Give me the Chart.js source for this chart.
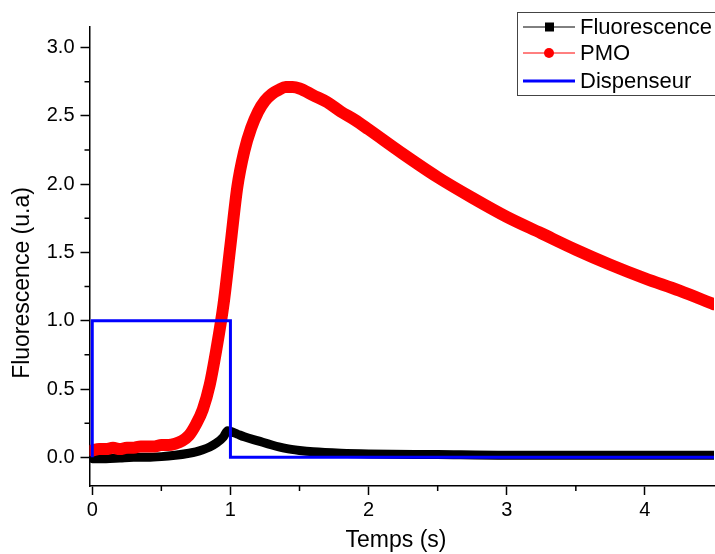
<!DOCTYPE html>
<html>
<head>
<meta charset="utf-8">
<script src="https://cdn.jsdelivr.net/npm/chart.js@4"></script>
<style>
  html, body { margin: 0; padding: 0; background: #fff; }
  #wrap { width: 715px; height: 554px; }
</style>
</head>
<body>
<div id="wrap"><canvas id="chart" width="715" height="554"></canvas></div>
<script>
/* Fluorescence / PMO / Dispenseur vs temps */

// PMO (rouge)
const pmoTime = [0.00, 0.05, 0.10, 0.15, 0.20, 0.25, 0.30, 0.35, 0.40, 0.45, 0.50, 0.55, 0.60, 0.65,
                 0.70, 0.75, 0.80, 0.85, 0.90, 0.95, 1.00, 1.05, 1.10, 1.15, 1.20, 1.25, 1.30, 1.35,
                 1.40, 1.45, 1.50, 1.60, 1.70, 1.80, 1.90, 2.00, 2.25, 2.50, 2.75, 3.00, 3.25, 3.50,
                 3.75, 4.00, 4.25, 4.50];
const pmoValues = [0.05, 0.06, 0.06, 0.07, 0.06, 0.07, 0.07, 0.08, 0.08, 0.08, 0.09, 0.09, 0.10, 0.12,
                   0.16, 0.24, 0.35, 0.53, 0.80, 1.12, 1.55, 1.98, 2.24, 2.41, 2.53, 2.61, 2.66, 2.69,
                   2.71, 2.71, 2.70, 2.65, 2.60, 2.53, 2.47, 2.40, 2.22, 2.05, 1.90, 1.76, 1.64, 1.52,
                   1.41, 1.31, 1.22, 1.12];

// Fluorescence (noir)
const fluoTime = [0.00, 0.10, 0.20, 0.30, 0.40, 0.50, 0.60, 0.70, 0.75, 0.80, 0.85, 0.90, 0.95, 0.98,
                  1.00, 1.05, 1.10, 1.20, 1.30, 1.40, 1.50, 1.60, 1.80, 2.00, 2.50, 3.00, 3.50, 4.00, 4.50];
const fluoValues = [-0.01, -0.01, -0.005, 0.0, 0.0, 0.005, 0.015, 0.03, 0.04, 0.055, 0.075, 0.105, 0.15, 0.195,
                    0.19, 0.17, 0.15, 0.12, 0.09, 0.065, 0.05, 0.04, 0.03, 0.025, 0.02, 0.015, 0.015, 0.015, 0.015];

// Dispenseur (bleu)
const dispTime = [0, 0, 1, 1, 4.5];
const dispValues = [0, 1, 1, 0, 0];

// graduations
const xTicks = [0, 1, 2, 3, 4];
const xMinorTicks = [0.5, 1.5, 2.5, 3.5];
const yTicks = [0, 0.5, 1.0, 1.5, 2.0, 2.5, 3.0];
const yMinorTicks = [0.25, 0.75, 1.25, 1.75, 2.25, 2.75];

const FONT = "'Liberation Sans', Arial, sans-serif";
const toXY = (xs, ys) => xs.map((x, i) => ({ x, y: ys[i] }));

// titres, ticks mineurs et légende dessinés à la main
const extras = {
    id: 'extras',
    afterDraw(chart) {
        const ctx = chart.ctx;
        const xs = chart.scales.x, ys = chart.scales.y;
        ctx.save();
        ctx.strokeStyle = '#000';
        ctx.lineWidth = 1.5;
        ctx.beginPath();
        xMinorTicks.forEach(v => {
            const px = xs.getPixelForValue(v);
            ctx.moveTo(px, xs.top); ctx.lineTo(px, xs.top + 5);
        });
        yMinorTicks.forEach(v => {
            const py = ys.getPixelForValue(v);
            ctx.moveTo(ys.right, py); ctx.lineTo(ys.right - 5, py);
        });
        ctx.stroke();

        // titres des axes
        ctx.fillStyle = '#000';
        ctx.font = '23px ' + FONT;
        ctx.textAlign = 'center';
        ctx.textBaseline = 'middle';
        ctx.fillText('Temps (s)', 396, 541);
        ctx.translate(23, 283);
        ctx.rotate(-Math.PI / 2);
        ctx.fillText('Fluorescence (u.a)', 0, 0);
        ctx.restore();

        // légende
        ctx.save();
        ctx.strokeStyle = '#444';
        ctx.lineWidth = 1;
        ctx.strokeRect(517.5, 12.5, 210, 83);
        const rows = [
            { label: 'Fluorescence', y: 27, color: '#000', width: 1, marker: 'square' },
            { label: 'PMO', y: 53, color: '#ff0000', width: 1, marker: 'circle' },
            { label: 'Dispenseur', y: 81, color: '#0000ff', width: 3, marker: null }
        ];
        rows.forEach(r => {
            ctx.strokeStyle = r.color;
            ctx.lineWidth = r.width;
            ctx.beginPath();
            ctx.moveTo(523, r.y); ctx.lineTo(575, r.y);
            ctx.stroke();
            ctx.fillStyle = r.color;
            if (r.marker === 'square') ctx.fillRect(545, r.y - 4.5, 9, 9);
            if (r.marker === 'circle') { ctx.beginPath(); ctx.arc(549, r.y, 5, 0, Math.PI * 2); ctx.fill(); }
            ctx.fillStyle = '#000';
            ctx.font = '22px ' + FONT;
            ctx.textAlign = 'left';
            ctx.textBaseline = 'middle';
            ctx.fillText(r.label, 580, r.y + 1);
        });
        ctx.restore();
    }
};

new Chart(document.getElementById('chart'), {
    type: 'line',
    data: {
        datasets: [
            { label: 'Dispenseur', data: toXY(dispTime, dispValues), borderColor: '#0000ff',
              borderWidth: 3, pointRadius: 0, tension: 0, order: 0 },
            { label: 'PMO', data: toXY(pmoTime, pmoValues), borderColor: '#ff0000',
              borderWidth: 12, pointRadius: 0, tension: 0.3, cubicInterpolationMode: 'monotone',
              borderCapStyle: 'round', borderJoinStyle: 'round', order: 1 },
            { label: 'Fluorescence', data: toXY(fluoTime, fluoValues), borderColor: '#000',
              borderWidth: 9, pointRadius: 0, cubicInterpolationMode: 'monotone',
              borderCapStyle: 'round', borderJoinStyle: 'round', order: 2 }
        ]
    },
    options: {
        responsive: false,
        animation: false,
        layout: { padding: { top: 27, right: 1, left: 0, bottom: 0 } },
        plugins: { legend: { display: false }, tooltip: { enabled: false } },
        scales: {
            x: {
                type: 'linear',
                min: -0.02, max: 4.5,
                afterFit: s => { s.height = 68; },
                afterBuildTicks: s => { s.ticks = xTicks.map(v => ({ value: v })); },
                border: { color: '#000', width: 1.5 },
                grid: { drawOnChartArea: false, tickLength: 9, tickColor: '#000', tickWidth: 1.5 },
                ticks: { color: '#000', font: { family: FONT, size: 20 }, padding: 3,
                         maxRotation: 0, callback: v => String(v) }
            },
            y: {
                min: -0.21, max: 3.15,
                afterFit: s => { s.width = 89.5; },
                afterBuildTicks: s => { s.ticks = yTicks.map(v => ({ value: v })); },
                border: { color: '#000', width: 1.5 },
                grid: { drawOnChartArea: false, tickLength: 9, tickColor: '#000', tickWidth: 1.5 },
                ticks: { color: '#000', font: { family: FONT, size: 20 }, padding: 6,
                         callback: v => v.toFixed(1) }
            }
        }
    },
    plugins: [extras]
});
</script>
</body>
</html>
